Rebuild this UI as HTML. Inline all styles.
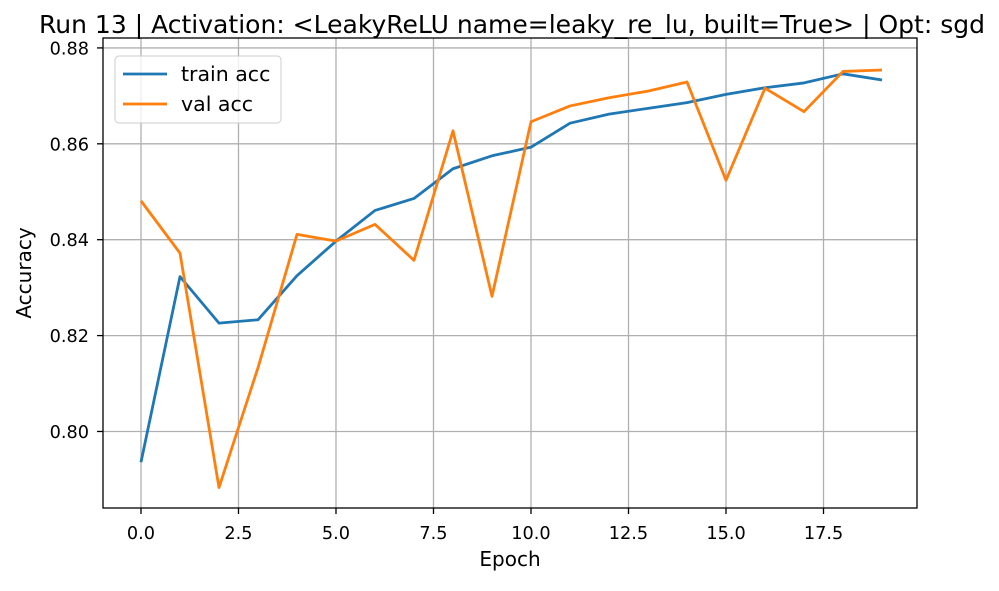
<!DOCTYPE html>
<html><head><meta charset="utf-8"><style>
html,body{margin:0;padding:0;background:#fff;}
svg text{font-family:"DejaVu Sans","Liberation Sans",sans-serif;fill:#000;}
</style></head><body>
<svg id="chart" width="999" height="586" viewBox="0 0 999 586">
<rect width="999" height="586" fill="#fff"/>
<text x="512" y="33" text-anchor="middle" font-size="24.5" textLength="946" lengthAdjust="spacingAndGlyphs">Run 13 | Activation: &lt;LeakyReLU name=leaky_re_lu, built=True&gt; | Opt: sgd</text>
<g id="grid"></g>
<g id="series"></g>
<rect x="103" y="38" width="814" height="470" fill="none" stroke="#000" stroke-width="1.3"/>
<g id="ticks"></g>
<text x="510" y="566" text-anchor="middle" font-size="20">Epoch</text>
<text transform="translate(31,273) rotate(-90)" text-anchor="middle" font-size="20">Accuracy</text>
<g>
<rect x="115" y="56" width="166" height="67" rx="4" fill="#fff" fill-opacity="0.8" stroke="#ccc"/>
<line x1="123" y1="74" x2="167" y2="74" stroke="#1f77b4" stroke-width="2.8"/>
<text x="181" y="81" font-size="20.5">train acc</text>
<line x1="123" y1="104" x2="167" y2="104" stroke="#ff7f0e" stroke-width="2.8"/>
<text x="181" y="111" font-size="20.5">val acc</text>
</g>
</svg>
<script>
const epochs = [0,1,2,3,4,5,6,7,8,9,10,11,12,13,14,15,16,17,18,19];
const trainAcc = [0.7936,0.8323,0.8226,0.8233,0.8325,0.8397,0.8461,0.8486,0.8548,0.8575,0.8593,0.8643,0.8662,0.8674,0.8686,0.8703,0.8717,0.8727,0.8746,0.8733];
const valAcc = [0.8481,0.8372,0.7883,0.8133,0.8411,0.8397,0.8432,0.8357,0.8627,0.8282,0.8646,0.8679,0.8696,0.8710,0.8729,0.8524,0.8716,0.8667,0.8751,0.8754];
const xTicks = [0,2.5,5,7.5,10,12.5,15,17.5];
const xTickLabels = ["0.0","2.5","5.0","7.5","10.0","12.5","15.0","17.5"];
const yTicks = [0.80,0.82,0.84,0.86,0.88];
const yTickLabels = ["0.80","0.82","0.84","0.86","0.88"];

const L=103,R=917,T=38,B=508;
const x0=-0.974,x1=19.897,y0=0.78404,y1=0.88207;
const sx=v=>L+(v-x0)/(x1-x0)*(R-L);
const sy=v=>B-(v-y0)/(y1-y0)*(B-T);
const NS="http://www.w3.org/2000/svg";
const grid=document.getElementById('grid'),ticks=document.getElementById('ticks'),series=document.getElementById('series');
function mk(tag,attrs,parent){const e=document.createElementNS(NS,tag);for(const k in attrs)e.setAttribute(k,attrs[k]);parent.appendChild(e);return e;}
xTicks.forEach((t,i)=>{
  const x=sx(t);
  const g=mk('line',{x1:x,x2:x,y1:T,y2:B,stroke:'#b0b0b0','stroke-width':1.3},grid);
  
  
  const tk=mk('line',{x1:x,x2:x,y1:B,y2:B+6,stroke:'#000','stroke-width':1.3},ticks);
  
  
  const tx=mk('text',{x:x,y:539,'text-anchor':'middle','font-size':17.7},ticks);
  tx.textContent=xTickLabels[i];
  
  
});
yTicks.forEach((t,i)=>{
  const y=sy(t);
  const g=mk('line',{x1:L,x2:R,y1:y,y2:y,stroke:'#b0b0b0','stroke-width':1.3},grid);
  
  
  const tk=mk('line',{x1:L-6,x2:L,y1:y,y2:y,stroke:'#000','stroke-width':1.3},ticks);
  
  
  const tx=mk('text',{x:L-14,y:y+6.5,'text-anchor':'end','font-size':17.7},ticks);
  tx.textContent=yTickLabels[i];
  
  
});
function line(vals,color,name){
  const pts=vals.map((v,i)=>sx(epochs[i])+','+sy(v)).join(' ');
  const p=mk('polyline',{points:pts,fill:'none',stroke:color,'stroke-width':2.8,'stroke-linejoin':'round'},series);
  
  
}
line(trainAcc,'#1f77b4','train-acc-line');
line(valAcc,'#ff7f0e','val-acc-line');
</script>
</body></html>
